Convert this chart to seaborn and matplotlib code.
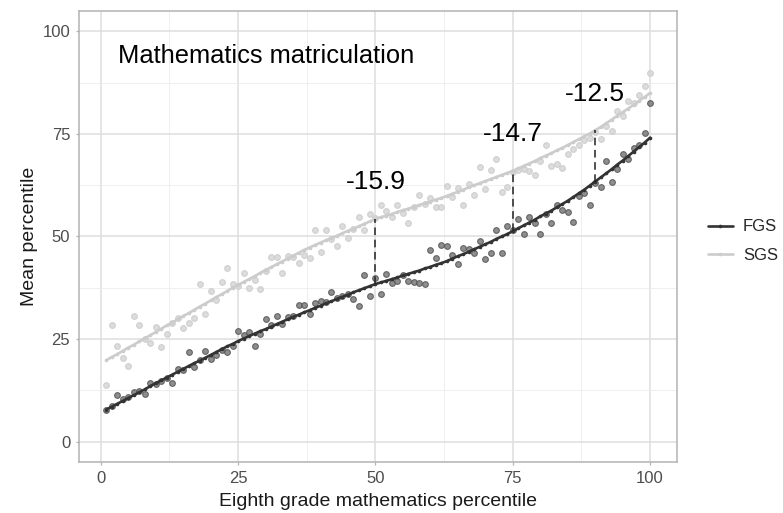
import numpy as np
import pandas as pd
import seaborn as sns
import matplotlib.pyplot as plt

# eighth grade percentile (x) and mean matriculation percentile per group
percentile = list(range(1, 101))

fgs_points = [7.8, 8.6, 11.3, 10.3, 10.8, 12.1, 12.2, 11.7, 14.3, 14.0,
              14.7, 15.6, 14.3, 17.6, 17.5, 21.8, 18.2, 19.9, 22.1, 20.2,
              21.2, 22.3, 21.8, 23.3, 27.0, 25.9, 26.7, 23.4, 26.1, 29.9,
              28.4, 30.6, 28.7, 30.4, 30.6, 33.2, 33.2, 31.0, 33.8, 34.2,
              34.0, 36.4, 35.0, 35.4, 35.9, 34.8, 33.0, 40.7, 35.6, 39.9,
              35.9, 40.9, 38.7, 39.1, 40.6, 39.1, 38.9, 38.7, 38.5, 46.7,
              44.8, 48.0, 47.6, 45.6, 43.4, 47.2, 47.0, 46.0, 48.9, 44.4,
              46.0, 51.5, 46.0, 52.5, 51.7, 54.3, 50.5, 54.8, 53.2, 50.7,
              55.6, 53.3, 57.6, 56.4, 56.0, 53.6, 59.8, 60.7, 57.6, 63.0,
              62.0, 68.5, 63.3, 66.5, 70.0, 68.9, 71.6, 72.2, 75.3, 82.6]

sgs_points = [13.9, 28.3, 23.4, 20.4, 18.5, 30.6, 28.3, 24.9, 24.1, 28.0,
              23.1, 26.3, 28.9, 30.2, 27.6, 28.9, 30.2, 38.5, 31.2, 36.8,
              34.5, 39.0, 42.4, 38.5, 38.0, 41.0, 37.5, 39.5, 37.1, 41.5,
              45.0, 45.0, 41.0, 45.2, 45.0, 43.6, 45.6, 44.8, 51.5, 46.2,
              51.5, 49.5, 47.8, 52.5, 49.7, 51.9, 54.7, 51.7, 55.5, 54.5,
              57.6, 56.3, 54.8, 57.6, 55.8, 53.3, 57.2, 60.0, 58.0, 59.4,
              57.2, 57.2, 62.4, 59.7, 61.9, 57.6, 62.9, 60.0, 66.9, 61.6,
              66.2, 68.8, 60.8, 62.1, 65.8, 66.3, 66.5, 65.9, 65.1, 68.5,
              72.4, 67.3, 67.8, 66.7, 70.2, 71.4, 72.2, 73.5, 74.1, 75.5,
              73.7, 77.0, 75.7, 80.6, 79.5, 83.0, 82.6, 84.6, 86.8, 89.8]

# fitted curves
fgs_fit = [7.8, 8.5, 9.2, 9.9, 10.6, 11.3, 12.0, 12.7, 13.5, 14.2,
           14.9, 15.6, 16.3, 17.0, 17.7, 18.4, 19.1, 19.7, 20.4, 21.1,
           21.8, 22.5, 23.2, 23.8, 24.5, 25.1, 25.7, 26.3, 26.9, 27.4,
           28.0, 28.6, 29.2, 29.8, 30.4, 30.9, 31.5, 32.0, 32.6, 33.1,
           33.7, 34.2, 34.8, 35.3, 35.8, 36.4, 36.9, 37.4, 37.9, 38.4,
           38.8, 39.2, 39.6, 40.0, 40.5, 40.9, 41.3, 41.7, 42.2, 42.6,
           43.1, 43.5, 44.0, 44.6, 45.2, 45.7, 46.3, 46.9, 47.5, 48.1,
           48.7, 49.4, 50.0, 50.6, 51.3, 52.0, 52.7, 53.4, 54.1, 54.9,
           55.6, 56.3, 57.1, 57.9, 58.7, 59.6, 60.5, 61.4, 62.4, 63.4,
           64.4, 65.4, 66.4, 67.5, 68.5, 69.6, 70.7, 71.8, 72.9, 74.1]

sgs_fit = [19.8, 20.6, 21.3, 22.1, 22.9, 23.6, 24.4, 25.2, 25.9, 26.7,
           27.5, 28.3, 29.0, 29.8, 30.6, 31.3, 32.1, 32.9, 33.6, 34.4,
           35.2, 35.9, 36.7, 37.5, 38.2, 38.9, 39.6, 40.3, 41.1, 41.8,
           42.5, 43.2, 43.9, 44.6, 45.3, 46.0, 46.7, 47.3, 47.9, 48.5,
           49.1, 49.6, 50.2, 50.8, 51.4, 51.9, 52.5, 53.1, 53.7, 54.3,
           54.7, 55.1, 55.5, 56.0, 56.4, 56.8, 57.2, 57.7, 58.1, 58.5,
           59.0, 59.4, 59.9, 60.4, 60.9, 61.4, 62.0, 62.5, 63.0, 63.5,
           64.0, 64.5, 65.0, 65.5, 66.0, 66.6, 67.2, 67.8, 68.4, 69.1,
           69.7, 70.3, 71.0, 71.6, 72.3, 73.0, 73.7, 74.4, 75.1, 75.9,
           76.7, 77.6, 78.5, 79.4, 80.3, 81.2, 82.1, 83.1, 84.0, 85.0]

gap_at = [50, 75, 90]
gap_labels = ["-15.9", "-14.7", "-12.5"]

groups = ["FGS", "SGS"]

pts = pd.DataFrame({
    "x": percentile * 2,
    "y": fgs_points + sgs_points,
    "group": ["FGS"] * 100 + ["SGS"] * 100,
})
fit = pd.DataFrame({
    "x": percentile * 2,
    "y": fgs_fit + sgs_fit,
    "group": ["FGS"] * 100 + ["SGS"] * 100,
})

sns.set_theme(style="whitegrid")
plt.rcParams['font.family'] = ['Liberation Sans', 'DejaVu Sans']

fig = plt.figure(figsize=(7.83, 5.13), dpi=100)
ax = fig.add_axes([0.101, 0.0994, 0.764, 0.8792])

pt_face = {"FGS": "#7a7a7a", "SGS": "#d6d6d6"}
pt_edge = {"FGS": "#555555", "SGS": "#cbcbcb"}
line_col = {"FGS": "#333333", "SGS": "#cccccc"}

for g in groups:
    d = pts[pts.group == g]
    sns.scatterplot(data=d, x="x", y="y", ax=ax, color=pt_face[g],
                    edgecolor=pt_edge[g], linewidth=0.8, s=17, alpha=0.85,
                    legend=False, zorder=2)

sns.lineplot(data=fit, x="x", y="y", hue="group", palette=line_col,
             hue_order=groups, ax=ax, linewidth=1.9, marker="o",
             markersize=2.6, markeredgewidth=0, legend=False, zorder=3)

# dashed gaps between the fitted curves
for xv, lab in zip(gap_at, gap_labels):
    top = sgs_fit[percentile.index(xv)]
    bot = fgs_fit[percentile.index(xv)]
    ax.vlines(xv, bot, top, colors="#222222", linestyles=(0, (5, 3)),
              linewidth=1.1, zorder=4)
    ax.text(xv, top + 8.9, lab, ha="center", va="center", fontsize=19,
            color="black")

ax.text(3.1, 93.9, "Mathematics matriculation", ha="left", va="center",
        fontsize=18.4, color="black")

ax.set_xlim(-3.95, 104.95)
ax.set_ylim(-5, 105)
ax.set_xticks([0, 25, 50, 75, 100])
ax.set_yticks([0, 25, 50, 75, 100])
ax.set_xticks([12.5, 37.5, 62.5, 87.5], minor=True)
ax.set_yticks([12.5, 37.5, 62.5, 87.5], minor=True)
ax.grid(which="major", color="#dedede", linewidth=1.1)
ax.grid(which="minor", color="#ececec", linewidth=0.6)
ax.set_axisbelow(True)
for sp in ax.spines.values():
    sp.set_color("#b3b3b3")
    sp.set_linewidth(1.1)
ax.tick_params(which="major", length=2.4, width=0.9, color="#b3b3b3",
               labelsize=12, labelcolor="#4d4d4d", pad=4, bottom=True, left=True)
ax.tick_params(which="minor", length=0)
ax.set_xlabel("Eighth grade mathematics percentile", fontsize=14, color="#1a1a1a",
              labelpad=5)
ax.set_ylabel("Mean percentile", fontsize=14, color="#1a1a1a", labelpad=3)

# legend
handles = [plt.Line2D([], [], color=line_col[g], linewidth=1.9, marker="o",
                      markersize=2.6, markeredgewidth=0) for g in groups]
fig.legend(handles, groups, loc="center left", bbox_to_anchor=(0.885, 0.53),
           frameon=False, fontsize=12, handlelength=1.5, handletextpad=0.6,
           labelspacing=0.8)

fig.savefig("out.png", dpi=100)
